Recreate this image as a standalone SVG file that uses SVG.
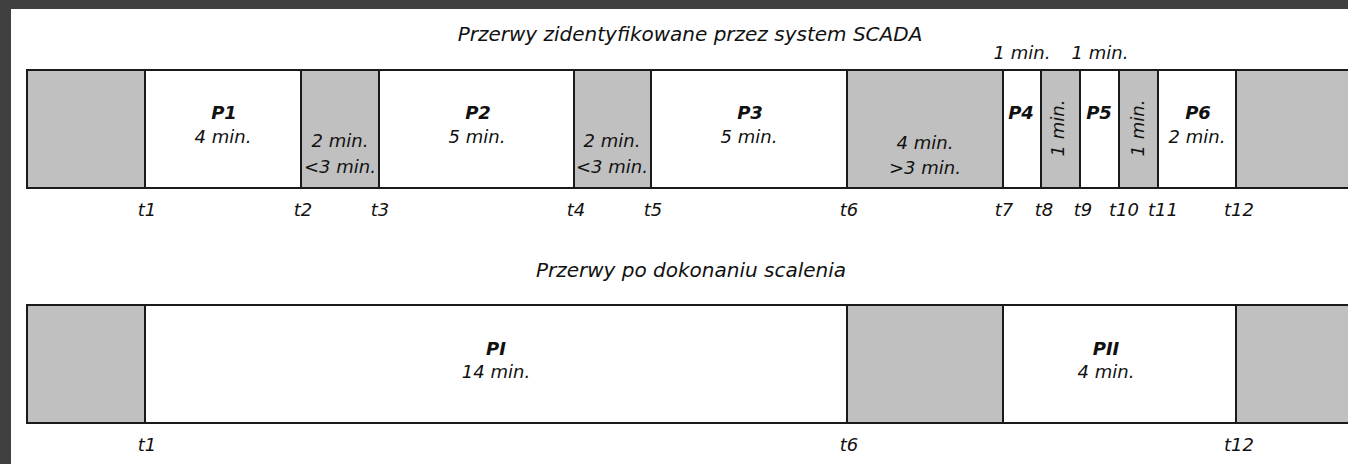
<svg xmlns="http://www.w3.org/2000/svg" width="1348" height="464" viewBox="0 0 1348 464">
<style>
.g{fill:#c0c0c0;stroke:#1a1a1a;stroke-width:2}
.w{fill:#ffffff;stroke:#1a1a1a;stroke-width:2}
text{font-family:"DejaVu Sans",sans-serif;font-style:italic;font-size:18px;fill:#111;text-anchor:middle}
.b{font-weight:bold}
.t{font-size:20px}
</style>
<rect x="0" y="0" width="1348" height="464" fill="#404040"/>
<rect x="11" y="9" width="1337" height="455" fill="#ffffff"/>
<text class="t" x="690" y="41">Przerwy zidentyfikowane przez system SCADA</text>
<text class="t" x="691" y="277">Przerwy po dokonaniu scalenia</text>
<g id="top-bar">
<rect class="g" x="27" y="70" width="118" height="118"/>
<rect class="w" x="145" y="70" width="156" height="118"/>
<rect class="g" x="301" y="70" width="78" height="118"/>
<rect class="w" x="379" y="70" width="195" height="118"/>
<rect class="g" x="574" y="70" width="77" height="118"/>
<rect class="w" x="651" y="70" width="196" height="118"/>
<rect class="g" x="847" y="70" width="156" height="118"/>
<rect class="w" x="1003" y="70" width="38" height="118"/>
<rect class="g" x="1041" y="70" width="39" height="118"/>
<rect class="w" x="1080" y="70" width="39" height="118"/>
<rect class="g" x="1119" y="70" width="39" height="118"/>
<rect class="w" x="1158" y="70" width="78" height="118"/>
<rect class="g" x="1236" y="70" width="120" height="118"/>
</g>
<g id="top-labels">
<text class="b" x="224" y="119">P1</text><text x="223" y="143">4 min.</text>
<text x="340" y="147">2 min.</text><text x="340" y="173">&lt;3 min.</text>
<text class="b" x="478" y="119">P2</text><text x="477" y="143">5 min.</text>
<text x="612" y="147">2 min.</text><text x="612" y="173">&lt;3 min.</text>
<text class="b" x="750" y="119">P3</text><text x="749" y="143">5 min.</text>
<text x="925" y="149">4 min.</text><text x="925" y="174">&gt;3 min.</text>
<text class="b" x="1021" y="119">P4</text>
<text class="b" x="1099" y="119">P5</text>
<text class="b" x="1198" y="119">P6</text><text x="1197" y="143">2 min.</text>
<text transform="translate(1064 128) rotate(-90)" x="0" y="0">1 min.</text>
<text transform="translate(1144 128) rotate(-90)" x="0" y="0">1 min.</text>
<text x="1022" y="59">1 min.</text><text x="1100" y="59">1 min.</text>
</g>
<g id="top-times">
<text x="147" y="216">t1</text><text x="303" y="216">t2</text><text x="380" y="216">t3</text>
<text x="576" y="216">t4</text><text x="653" y="216">t5</text><text x="849" y="216">t6</text>
<text x="1004" y="216">t7</text><text x="1044" y="216">t8</text><text x="1083" y="216">t9</text>
<text x="1124" y="216">t10</text><text x="1163" y="216">t11</text><text x="1239" y="216">t12</text>
</g>
<g id="bottom-bar">
<rect class="g" x="27" y="305" width="118" height="118"/>
<rect class="w" x="145" y="305" width="702" height="118"/>
<rect class="g" x="847" y="305" width="156" height="118"/>
<rect class="w" x="1003" y="305" width="233" height="118"/>
<rect class="g" x="1236" y="305" width="120" height="118"/>
</g>
<g id="bottom-labels">
<text class="b" x="496" y="355">PI</text><text x="496" y="378">14 min.</text>
<text class="b" x="1106" y="355">PII</text><text x="1106" y="378">4 min.</text>
<text x="147" y="451">t1</text><text x="849" y="451">t6</text><text x="1239" y="451">t12</text>
</g>
</svg>
